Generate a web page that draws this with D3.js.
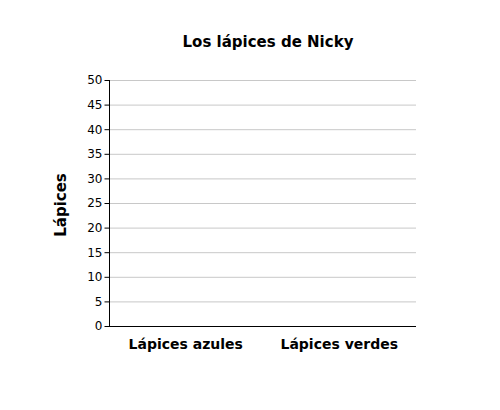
<!DOCTYPE html>
<html><head><meta charset="utf-8">
<script src="https://cdn.jsdelivr.net/npm/d3@7"></script>
<style>body{margin:0;background:#fff}svg{display:block}</style>
</head><body>
<svg id="c" width="500" height="410"></svg>
<script>
const categories = ["Lápices azules", "Lápices verdes"];
const values = [0, 0];
const yTicks = [0, 5, 10, 15, 20, 25, 30, 35, 40, 45, 50];
const title = "Los lápices de Nicky";
const yLabel = "Lápices";

const svg = d3.select("#c");
const font = "Verdana, 'DejaVu Sans', sans-serif";
const m = {left: 109, right: 416, top: 80, bottom: 326};

const x = d3.scaleBand().domain(categories).range([m.left, m.right])
  .paddingInner(0.3).paddingOuter(0.15);
const y = d3.scaleLinear().domain([0, 50]).range([m.bottom, m.top]);

// gridlines
svg.append("g").selectAll("line").data(yTicks.filter(d => d > 0)).join("line")
  .attr("x1", m.left).attr("x2", m.right)
  .attr("y1", d => y(d) + 0.5).attr("y2", d => y(d) + 0.5)
  .attr("stroke", "#c8c8c8").attr("stroke-width", 1);

// bars
svg.append("g").selectAll("rect").data(values).join("rect")
  .attr("x", (d, i) => x(categories[i])).attr("width", x.bandwidth())
  .attr("y", d => y(d)).attr("height", d => y(0) - y(d))
  .attr("fill", "#4a7ebb");

// y axis
const ya = svg.append("g").attr("transform", `translate(${m.left + 0.5},0)`)
  .call(d3.axisLeft(y).tickValues(yTicks).tickSize(5).tickPadding(2));
ya.select(".domain").attr("stroke", "#000").attr("d", `M-0,${m.top}V${m.bottom}`);
ya.selectAll(".tick line").attr("stroke", "#000");
ya.selectAll("text").attr("font-family", font).attr("font-size", 12).attr("fill", "#000");

// x axis
const xa = svg.append("g").attr("transform", `translate(0,${m.bottom + 0.5})`)
  .call(d3.axisBottom(x).tickSize(0).tickPadding(13));
xa.select(".domain").attr("stroke", "#000").attr("d", `M${m.left},0H${m.right}`);
xa.selectAll("text").attr("font-family", font).attr("font-size", 14)
  .attr("font-weight", "bold").attr("fill", "#000");

// title
svg.append("text").attr("x", 268).attr("y", 47).attr("text-anchor", "middle")
  .attr("font-family", font).attr("font-size", 15).attr("font-weight", "bold").text(title);

// y label
svg.append("text").attr("transform", "translate(66,205) rotate(-90)")
  .attr("text-anchor", "middle").attr("font-family", font).attr("font-size", 15)
  .attr("font-weight", "bold").text(yLabel);
</script>
</body></html>
